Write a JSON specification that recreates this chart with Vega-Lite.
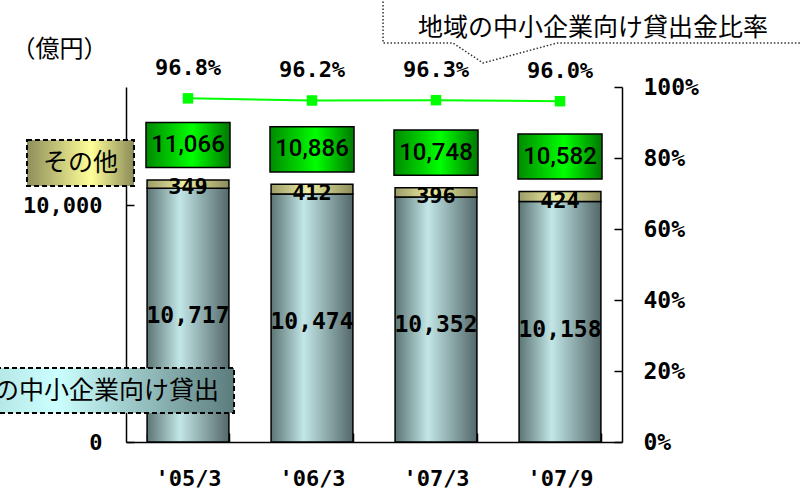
{
  "$schema": "https://vega.github.io/schema/vega-lite/v6.json",
  "description": "地域の中小企業向け貸出と比率",
  "autosize": {"type": "none"},
  "padding": {"left": 126, "top": 87, "right": 179, "bottom": 51},
  "width": 496,
  "height": 355,
  "background": "white",
  "datasets": {
    "loans": [
      {"period": "'05/3", "main": 10717, "other": 349, "total": 11066, "ratio": 0.968},
      {"period": "'06/3", "main": 10474, "other": 412, "total": 10886, "ratio": 0.962},
      {"period": "'07/3", "main": 10352, "other": 396, "total": 10748, "ratio": 0.963},
      {"period": "'07/9", "main": 10158, "other": 424, "total": 10582, "ratio": 0.960}
    ],
    "callout": [
      {"o": 1, "ax": 2.073, "ay": 18760},
      {"o": 2, "ax": 2.073, "ay": 16859},
      {"o": 3, "ax": 2.637, "ay": 16859},
      {"o": 4, "ax": 2.879, "ay": 16014},
      {"o": 5, "ax": 3.476, "ay": 16859},
      {"o": 6, "ax": 5.5, "ay": 16859}
    ]
  },
  "layer": [
    {
      "data": {"name": "loans"},
      "encoding": {
        "x": {
          "field": "period", "type": "nominal", "sort": null,
          "scale": {"paddingInner": 0.34, "paddingOuter": 0.17},
          "axis": {
            "title": null, "labelAngle": 0, "tickBand": "extent", "tickSize": -9,
            "labelPadding": 35, "labelFont": "DejaVu Sans Mono", "labelFontWeight": "bold",
            "labelFontSize": 22
          }
        },
        "y": {
          "type": "quantitative",
          "scale": {"domain": [0, 15000], "nice": false},
          "axis": {
            "title": null, "values": [0, 10000], "labelExpr": "format(datum.value, ',')", "tickSize": -8,
            "labelPadding": 32, "labelFont": "DejaVu Sans Mono", "labelFontWeight": "bold",
            "labelFontSize": 22
          }
        }
      },
      "layer": [
        {
          "mark": {
            "type": "bar", "stroke": "black", "strokeWidth": 1.5,
            "fill": {"gradient": "linear", "x1": 0, "y1": 0, "x2": 1, "y2": 0,
              "stops": [{"offset": 0, "color": "#5c7474"}, {"offset": 0.4, "color": "#c2e6e6"}, {"offset": 1, "color": "#54686a"}]}
          },
          "encoding": {"y": {"field": "main"}}
        },
        {
          "mark": {
            "type": "bar", "stroke": "black", "strokeWidth": 1.5,
            "fill": {"gradient": "linear", "x1": 0, "y1": 0, "x2": 1, "y2": 0,
              "stops": [{"offset": 0, "color": "#9c9c68"}, {"offset": 0.45, "color": "#eeeea2"}, {"offset": 1, "color": "#8c8c5c"}]}
          },
          "encoding": {"y": {"field": "total"}, "y2": {"field": "main"}}
        },
        {
          "mark": {"type": "text", "font": "DejaVu Sans Mono", "fontWeight": "bold", "fontSize": 23, "dy": 128, "color": "black"},
          "encoding": {"y": {"field": "main"}, "text": {"field": "main", "format": ","}}
        },
        {
          "mark": {"type": "text", "font": "DejaVu Sans Mono", "fontWeight": "bold", "fontSize": 22, "dy": -1, "color": "black"},
          "encoding": {"y": {"field": "main"}, "text": {"field": "other", "format": ","}}
        },
        {
          "mark": {
            "type": "point", "shape": "M-1,-0.536L1,-0.536L1,0.536L-1,0.536Z", "size": 7056,
            "filled": true, "opacity": 1, "yOffset": -35, "stroke": "black", "strokeWidth": 1.5,
            "fill": {"gradient": "linear", "x1": 0, "y1": 0, "x2": 1, "y2": 0,
              "stops": [{"offset": 0, "color": "#008a00"}, {"offset": 0.55, "color": "#00ff00"}, {"offset": 1, "color": "#007800"}]}
          },
          "encoding": {"y": {"field": "total"}}
        },
        {
          "mark": {"type": "text", "font": "Roboto", "fontWeight": 500, "fontSize": 24, "dy": -35, "color": "black"},
          "encoding": {"y": {"field": "total"}, "text": {"field": "total", "format": ","}}
        }
      ]
    },
    {
      "data": {"name": "loans"},
      "encoding": {
        "x": {
          "field": "period", "type": "nominal", "sort": null,
          "scale": {"paddingInner": 0.34, "paddingOuter": 0.17},
          "axis": null
        },
        "y": {
          "field": "ratio", "type": "quantitative",
          "scale": {"domain": [0, 1], "nice": false},
          "axis": {
            "orient": "right", "title": null, "values": [0, 0.2, 0.4, 0.6, 0.8, 1], "format": ".0%",
            "tickSize": -8, "labelPadding": 29, "labelAlign": "left",
            "labelFont": "DejaVu Sans Mono", "labelFontWeight": "bold", "labelFontSize": 23
          }
        }
      },
      "layer": [
        {
          "mark": {
            "type": "line", "color": "#00ff00", "strokeWidth": 2,
            "point": {"shape": "square", "size": 110, "filled": true, "opacity": 1, "color": "#00ff00"}
          }
        },
        {
          "mark": {"type": "text", "font": "DejaVu Sans Mono", "fontWeight": "bold", "fontSize": 22, "dy": -30, "color": "black"},
          "encoding": {"text": {"field": "ratio", "format": ".1%"}}
        }
      ]
    },
    {
      "encoding": {
        "x": {"field": "ax", "type": "quantitative", "scale": {"domain": [0, 4], "nice": false, "zero": false}, "axis": null},
        "y": {"field": "ay", "type": "quantitative", "scale": {"domain": [0, 15000], "nice": false}, "axis": null}
      },
      "layer": [
        {
          "data": {"values": [{"ax": -0.367, "ay": 11789}]},
          "mark": {
            "type": "point", "shape": "M-1,-0.43L1,-0.43L1,0.43L-1,0.43Z", "size": 11449,
            "filled": true, "opacity": 1, "stroke": "black", "strokeWidth": 2, "strokeDash": [5, 3],
            "fill": {"gradient": "linear", "x1": 0, "y1": 0, "x2": 1, "y2": 0,
              "stops": [{"offset": 0, "color": "#8e8e5c"}, {"offset": 0.6, "color": "#ffff99"}, {"offset": 1, "color": "#8a8a58"}]}
          }
        },
        {
          "data": {"values": [{"ax": -0.367, "ay": 11789, "label": "その他"}]},
          "mark": {"type": "text", "font": "Noto Sans CJK JP", "fontSize": 25, "color": "black"},
          "encoding": {"text": {"field": "label"}}
        },
        {
          "data": {"values": [{"ax": -0.3145, "ay": 2176}]},
          "mark": {
            "type": "point", "shape": "M-1,-0.153L1,-0.153L1,0.153L-1,0.153Z", "size": 86436,
            "filled": true, "opacity": 1, "stroke": "black", "strokeWidth": 2, "strokeDash": [5, 3],
            "fill": {"gradient": "linear", "x1": 0, "y1": 0, "x2": 1, "y2": 0,
              "stops": [{"offset": 0, "color": "#a0d0d0"}, {"offset": 0.4, "color": "#ccffff"}, {"offset": 1, "color": "#5c7c7c"}]}
          }
        },
        {
          "data": {"values": [{"ax": 0.75, "ay": 2176, "label": "地域の中小企業向け貸出"}]},
          "mark": {"type": "text", "font": "Noto Sans CJK JP", "fontSize": 25, "align": "right", "color": "black"},
          "encoding": {"text": {"field": "label"}}
        },
        {
          "data": {"name": "callout"},
          "mark": {"type": "line", "color": "#333333", "strokeWidth": 1.5, "strokeDash": [1.5, 2]},
          "encoding": {"order": {"field": "o"}}
        },
        {
          "data": {"values": [{"ax": 3.766, "ay": 17493, "label": "地域の中小企業向け貸出金比率"}]},
          "mark": {"type": "text", "font": "Noto Sans CJK JP", "fontSize": 25, "letterSpacing": 1.2, "color": "black"},
          "encoding": {"text": {"field": "label"}}
        },
        {
          "data": {"values": [{"ax": -0.536, "ay": 16564, "label": "（億円）"}]},
          "mark": {"type": "text", "font": "Noto Sans CJK JP", "fontSize": 24, "color": "black"},
          "encoding": {"text": {"field": "label"}}
        }
      ]
    }
  ],
  "resolve": {"scale": {"x": "independent", "y": "independent"}},
  "config": {
    "view": {"stroke": null},
    "axis": {
      "grid": false, "domainColor": "black", "domainWidth": 1.5,
      "tickColor": "black", "tickWidth": 1.5, "labelColor": "black"
    }
  }
}
